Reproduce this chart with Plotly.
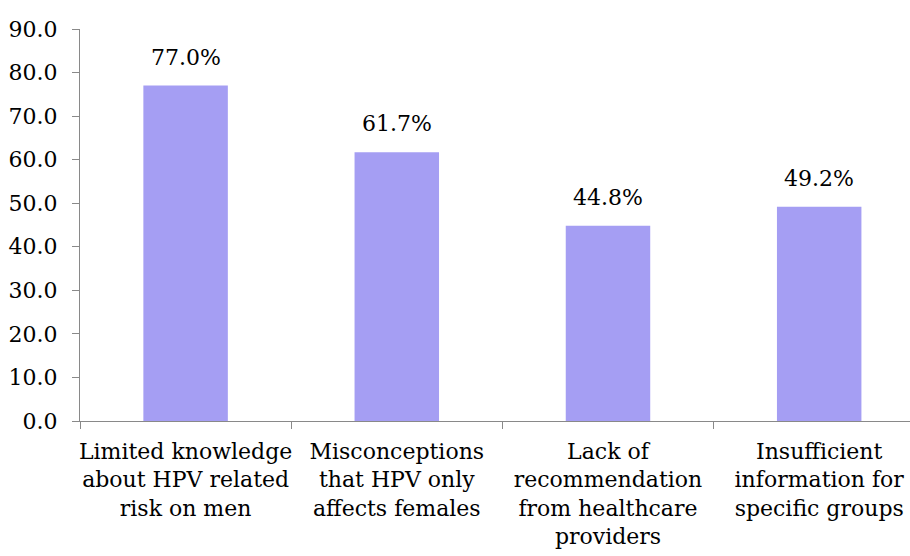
import plotly.graph_objects as go

# Barriers to HPV vaccination in men (% of respondents)
categories = [
    "Limited knowledge<br>about HPV related<br>risk on men",
    "Misconceptions<br>that HPV only<br>affects females",
    "Lack of<br>recommendation<br>from healthcare<br>providers",
    "Insufficient<br>information for<br>specific groups",
]
values = [77.0, 61.7, 44.8, 49.2]
y_ticks = [0, 10, 20, 30, 40, 50, 60, 70, 80, 90]

FONT = "DejaVu Serif"
FONT_SIZE = 22
BAR_COLOR = "#A59EF3"
AXIS_COLOR = "#898989"

fig = go.Figure(
    go.Bar(
        x=categories,
        y=values,
        width=0.4,
        marker=dict(color=BAR_COLOR, line=dict(width=0)),
        hoverinfo="x+y",
    )
)

# value labels above each bar
for cat, val in zip(categories, values):
    fig.add_annotation(
        x=cat, y=val, text=f"{val:.1f}%", showarrow=False,
        yanchor="bottom", yshift=14,
        font=dict(family=FONT, size=FONT_SIZE, color="#000000"),
    )

fig.update_layout(
    width=910, height=556,
    margin=dict(l=80, r=0, t=29, b=135),
    paper_bgcolor="white", plot_bgcolor="white",
    showlegend=False,
    font=dict(family=FONT, size=FONT_SIZE, color="#000000"),
    bargap=0.6,
)

fig.update_xaxes(
    range=[-0.5, 3.43],
    showline=True, linecolor=AXIS_COLOR, linewidth=1.3,
    ticks="outside", tickson="boundaries", ticklen=7,
    tickcolor=AXIS_COLOR, tickwidth=1.3,
    showgrid=False, zeroline=False,
    tickangle=0,
    tickfont=dict(family=FONT, size=FONT_SIZE, color="#000000"),
    ticklabelstandoff=10,
    automargin=False,
    fixedrange=True,
)

fig.update_yaxes(
    range=[0, 90],
    tickvals=y_ticks, tickformat=".1f",
    showline=True, linecolor=AXIS_COLOR, linewidth=1.3,
    ticks="outside", ticklen=7, tickcolor=AXIS_COLOR, tickwidth=1.3,
    showgrid=False, zeroline=False,
    tickfont=dict(family=FONT, size=FONT_SIZE, color="#000000"),
    ticklabelstandoff=10,
    automargin=False,
    fixedrange=True,
)

fig.write_html("out.html")
